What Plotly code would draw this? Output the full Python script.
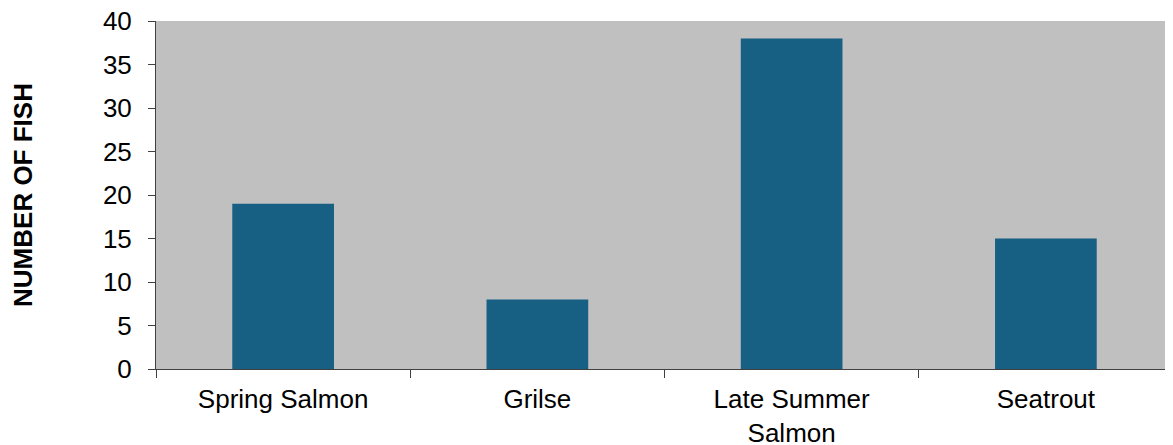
import plotly.graph_objects as go

categories = ["Spring Salmon", "Grilse", "Late Summer<br>Salmon", "Seatrout"]
fish_counts = [19, 8, 38, 15]
y_ticks = [0, 5, 10, 15, 20, 25, 30, 35, 40]

fig = go.Figure(
    go.Bar(
        x=categories,
        y=fish_counts,
        marker=dict(color="#175F83", line=dict(width=0)),
    )
)

font_family = "Arial, Liberation Sans, sans-serif"

fig.update_layout(
    width=1165,
    height=437,
    margin=dict(l=148, r=0, t=13, b=76),
    paper_bgcolor="white",
    plot_bgcolor="#C0C0C0",
    bargap=0.6,
    showlegend=False,
    font=dict(family=font_family, color="black", size=26),
)

fig.update_xaxes(
    type="category",
    tickson="boundaries",
    ticks="outside",
    ticklen=8,
    tickcolor="#404040",
    showline=True,
    linecolor="#404040",
    linewidth=1,
    showgrid=False,
    tickfont=dict(size=26, family=font_family),
    ticklabelstandoff=7,
    automargin=False,
)

fig.update_yaxes(
    range=[0, 40.02],
    tickvals=y_ticks,
    ticks="outside",
    ticklen=7,
    tickcolor="#404040",
    showline=True,
    linecolor="#404040",
    linewidth=1,
    showgrid=False,
    zeroline=False,
    tickfont=dict(size=26, family=font_family),
    ticklabelstandoff=11,
    ticklabeloverflow="allow",
    automargin=False,
    title=dict(
        text="<b>NUMBER OF FISH</b>",
        font=dict(size=26, family=font_family),
        standoff=70,
    ),
)

fig.write_html("out.html")
